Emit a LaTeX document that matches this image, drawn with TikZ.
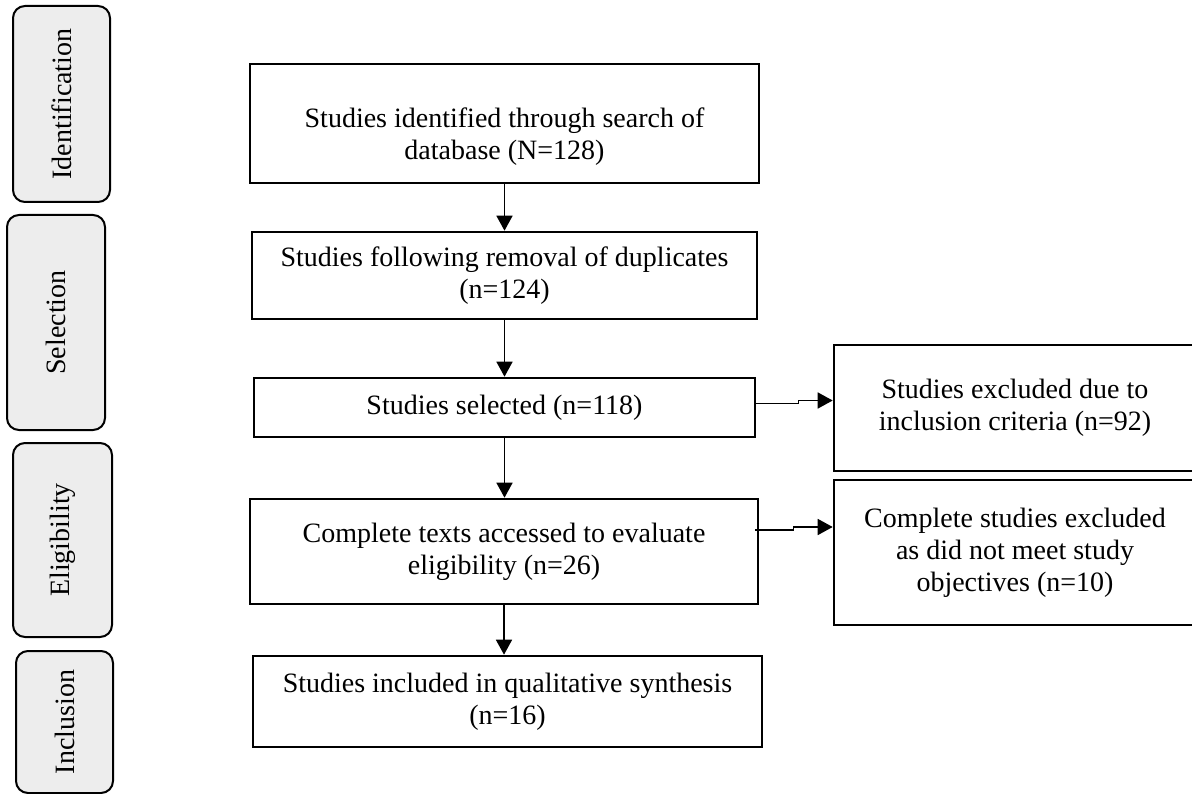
\documentclass[tikz,border=0pt]{standalone}
\usepackage{fontspec}
\setmainfont{Liberation Serif}
\usetikzlibrary{arrows.meta, calc}
\tikzset{
  stage/.style={draw, line width=2.6pt, align=center, inner sep=0pt, font=\fontsize{28}{32}\selectfont},
  phase/.style={draw, line width=2pt, rounded corners=12pt, fill=black!7, rotate=90, inner sep=0pt, font=\fontsize{28}{32}\selectfont},
  flow/.style={line width=1.6pt, -{Triangle[width=16pt,length=15pt]}},
}

\begin{document}
\begin{tikzpicture}[x=1pt, y=-1pt]
  \useasboundingbox (0,0) rectangle (1192,794);

  % phases on the left
  \node[phase, minimum width=196pt, minimum height=97pt] (phIdent) at (61.5,104)   {Identification};
  \node[phase, minimum width=215pt, minimum height=98pt] (phSel)   at (56,322.5)   {Selection};
  \node[phase, minimum width=194pt, minimum height=99pt] (phElig)  at (62.5,540)   {Eligibility};
  \node[phase, minimum width=142pt, minimum height=97pt] (phIncl)  at (64.5,722)   {Inclusion};

  % main column
  \node[stage, minimum width=509pt, minimum height=119pt] (ident)    at (504.5,123.5) {\rule{0pt}{46pt}Studies identified through search of\\database (N=128)};
  \node[stage, minimum width=505pt, minimum height=87pt]  (dedup)    at (504.5,275.5) {Studies following removal of duplicates\\(n=124)};
  \node[stage, minimum width=501pt, minimum height=59pt]  (select)   at (504.5,407.5) {Studies selected (n=118)};
  \node[stage, minimum width=508pt, minimum height=105pt] (fulltext) at (504,551.5)   {Complete texts accessed to evaluate\\eligibility (n=26)};
  \node[stage, minimum width=509pt, minimum height=91pt]  (incl)     at (507.5,701.5) {Studies included in qualitative synthesis\\(n=16)};

  % exclusions on the right
  \node[stage, minimum width=362pt, minimum height=126pt] (exclA) at (1015,408)   {Studies excluded due to\\inclusion criteria (n=92)};
  \node[stage, minimum width=362pt, minimum height=145pt] (exclB) at (1015,552.5) {Complete studies excluded\\as did not meet study\\objectives (n=10)};

  \draw[flow] (ident.south)    -- (ident.south |- dedup.north);
  \draw[flow] (dedup.south)    -- (dedup.south |- select.north);
  \draw[flow] (select.south)   -- (select.south |- fulltext.north);
  \draw[flow] (fulltext.south) -- (fulltext.south |- incl.north);

  \draw[flow] ([yshift=4pt]select.east) -- ++(42,0) -- ++(0,-3) coordinate (jogA) -- (jogA -| exclA.west);
  \draw[flow] ([xshift=-4pt,yshift=21.5pt]fulltext.east) -- ++(38,0) -- ++(0,-3) coordinate (jogB) -- (jogB -| exclB.west);
\end{tikzpicture}
\end{document}
